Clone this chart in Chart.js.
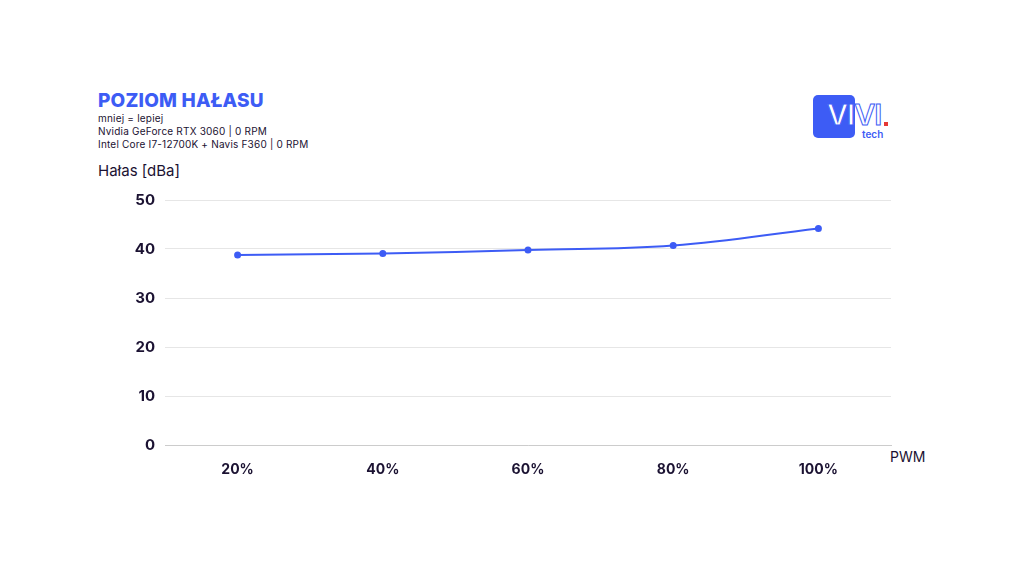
<!DOCTYPE html>
<html>
<head>
<meta charset="utf-8">
<script src="https://cdn.jsdelivr.net/npm/chart.js@4/dist/chart.umd.min.js"></script>
<style>
  html, body { margin: 0; padding: 0; background: #fff; }
  body { width: 1024px; height: 576px; position: relative; overflow: hidden; font-family: 'Inter', 'Noto Sans', sans-serif; color: #1b1232; }
  .title { position: absolute; left: 98px; top: 89px; font-size: 19px; font-weight: 800; color: #3d5cf5; letter-spacing: 0.2px; }
  .sub { position: absolute; left: 98px; font-size: 10px; color: #1b1232; letter-spacing: 0.2px; }
  .ytitle { position: absolute; left: 98px; top: 161px; font-size: 15px; color: #1b1232; }
  .xtitle { position: absolute; left: 890px; top: 448px; font-size: 14px; color: #1b1232; }
  .logo-box { position: absolute; left: 813px; top: 95px; width: 42px; height: 43px; background: #3d5cf5; border-radius: 5px; }
  .logo-text { position: absolute; left: 827px; top: 97px; font-size: 29px; font-weight: 600; color: #fff; letter-spacing: -1px; -webkit-text-stroke: 1px #3d5cf5; }
  .logo-dot { position: absolute; left: 884px; top: 122px; width: 4px; height: 4px; background: #e53935; }
  .logo-tech { position: absolute; left: 862px; top: 128px; font-size: 10px; font-weight: 600; color: #3d5cf5; }
  #wrap { position: absolute; left: 100px; top: 181px; width: 796px; height: 299px; }
</style>
</head>
<body>
<div class="title">POZIOM HAŁASU</div>
<div class="sub" style="top:112px">mniej = lepiej</div>
<div class="sub" style="top:125px">Nvidia GeForce RTX 3060 | 0 RPM</div>
<div class="sub" style="top:138px">Intel Core I7-12700K + Navis F360 | 0 RPM</div>
<div class="ytitle">Hałas [dBa]</div>
<div class="xtitle">PWM</div>
<div class="logo-box"></div>
<div class="logo-text">VIVI</div>
<div class="logo-dot"></div>
<div class="logo-tech">tech</div>
<div id="wrap"><canvas id="chart"></canvas></div>
<script>
const categories = ['20%', '40%', '60%', '80%', '100%'];
const noiseValues = [38.8, 39.1, 39.8, 40.7, 44.2];
const yTicks = [0, 10, 20, 30, 40, 50];

const tickColor = '#1b1232';

new Chart(document.getElementById('chart'), {
  type: 'line',
  data: {
    labels: categories,
    datasets: [{
      label: 'Hałas',
      data: noiseValues,
      borderColor: '#3d5cf5',
      backgroundColor: '#3d5cf5',
      borderWidth: 2,
      tension: 0.4,
      pointRadius: 2.5,
      pointHoverRadius: 3
    }]
  },
  options: {
    responsive: true,
    maintainAspectRatio: false,
    animation: false,
    layout: { padding: 0 },
    plugins: { legend: { display: false }, tooltip: { enabled: false } },
    scales: {
      x: {
        offset: true,
        grid: { display: false },
        border: { color: '#cccccc', width: 1 },
        ticks: { color: tickColor, padding: 8, font: { family: 'Inter', size: 14, weight: '700' } },
        afterFit: (scale) => { scale.height = 35; }
      },
      y: {
        min: 0,
        max: 50,
        afterBuildTicks: (scale) => { scale.ticks = yTicks.map(v => ({ value: v })); },
        grid: { color: '#e6e6e6', drawTicks: false },
        border: { display: false },
        ticks: { color: tickColor, padding: 10, font: { family: 'Inter', size: 15, weight: '700' } },
        afterFit: (scale) => { scale.width = 65; }
      }
    }
  }
});
</script>
</body>
</html>
